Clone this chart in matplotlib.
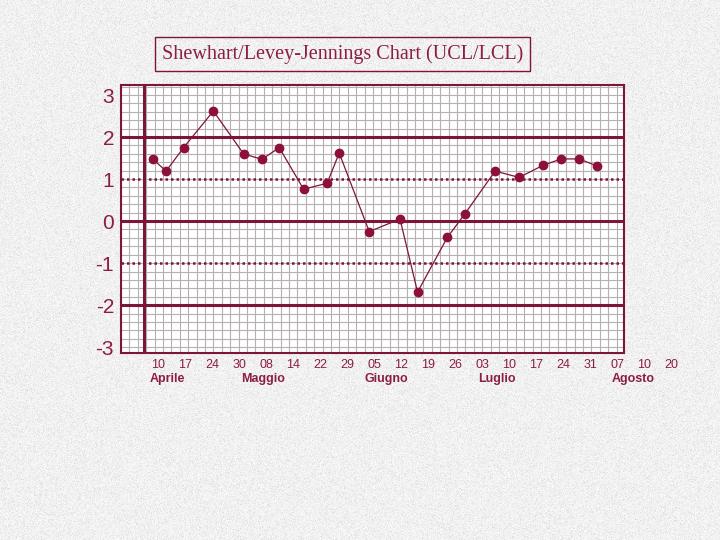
import numpy as np
import matplotlib
matplotlib.use("Agg")
import matplotlib.pyplot as plt

plt.rcParams['font.family'] = ['Liberation Sans', 'DejaVu Sans']

# etichette asse x (date) e mesi
tick_labels = ["10", "17", "24", "30", "08", "14", "22", "29", "05", "12",
               "19", "26", "03", "10", "17", "24", "31", "07", "10", "20"]
mesi = ["Aprile", "Maggio", "Giugno", "Luglio", "Agosto"]
mesi_pos = [0.32, 3.88, 8.45, 12.55, 17.57]

# punti (posizione lungo l'asse in unita' di etichetta, valore in SD)
x_punti = [-0.19, 0.29, 0.94, 2.04, 3.16, 3.84, 4.48, 5.38, 6.25, 6.70,
           7.81, 8.95, 9.60, 10.70, 11.36, 12.47, 13.36, 14.25, 14.92,
           15.58, 16.25]
y_punti = [1.47, 1.19, 1.75, 2.62, 1.60, 1.47, 1.75, 0.76, 0.90, 1.62,
           -0.25, 0.05, -1.69, -0.39, 0.18, 1.19, 1.04, 1.33, 1.48,
           1.48, 1.31]

rosso = "#7d1537"
punto = "#8c0f3c"
testo = "#8c1e40"

fig = plt.figure(figsize=(7.2, 5.4), dpi=100)

# sfondo granito
rng = np.random.default_rng(3)
tex = 0.925 + 0.055 * rng.random((540, 720)) - 0.05 * (rng.random((540, 720)) > 0.82)
tex = np.clip(tex, 0, 1)
fig.figimage(np.dstack([tex, tex, tex]), xo=0, yo=0, zorder=-10)

ax = fig.add_axes([0.168, 0.3463, 0.6986, 0.4963])
ax.set_zorder(2)
ax.set_facecolor("white")
ax.set_xlim(-1.38, 17.24)
ax.set_ylim(-3.14, 3.24)

# griglia
for gx in np.arange(-1.38, 17.24, 0.311):
    ax.axvline(gx, color="#b6b0b3", lw=0.8, zorder=1)
for gy in np.arange(-3.0, 3.3, 0.2):
    ax.axhline(gy, color="#b6b0b3", lw=0.8, zorder=1)

# linee di controllo
for lv in [2, 0, -2]:
    ax.axhline(lv, color=rosso, lw=2.2, zorder=2)
for lv in [1, -1]:
    ax.axhline(lv, color=rosso, lw=1.8, ls=(0, (1, 1.2)), zorder=2)
ax.axvline(-0.53, color=rosso, lw=2.2, zorder=2)

ax.plot(x_punti, y_punti, color=rosso, lw=0.9, zorder=3)
ax.plot(x_punti, y_punti, "o", color=punto, ms=6, zorder=4)

for s in ax.spines.values():
    s.set_color(rosso)
    s.set_linewidth(1.5)
    s.set_zorder(5)

ax.set_yticks([3, 2, 1, 0, -1, -2, -3])
ax.set_yticklabels(["3", "2", "1", "0", "-1", "-2", "-3"])
ax.tick_params(axis="y", length=0, pad=5, labelsize=15, labelcolor=testo)
ax.set_xticks([])

for i, lab in enumerate(tick_labels):
    ax.text(i, -3.42, lab, ha="center", va="center", fontsize=9,
            color=testo, clip_on=False)
for m, p in zip(mesi, mesi_pos):
    ax.text(p, -3.76, m, ha="center", va="center", fontsize=9,
            fontweight="bold", color=testo, clip_on=False)

fig.text(0.476, 0.9, "Shewhart/Levey-Jennings Chart (UCL/LCL)",
         ha="center", va="center", fontsize=14.5, family="Liberation Serif",
         color=testo,
         bbox=dict(boxstyle="square,pad=0.35", fc="none", ec=rosso, lw=1))

fig.savefig("out.png", dpi=100)
